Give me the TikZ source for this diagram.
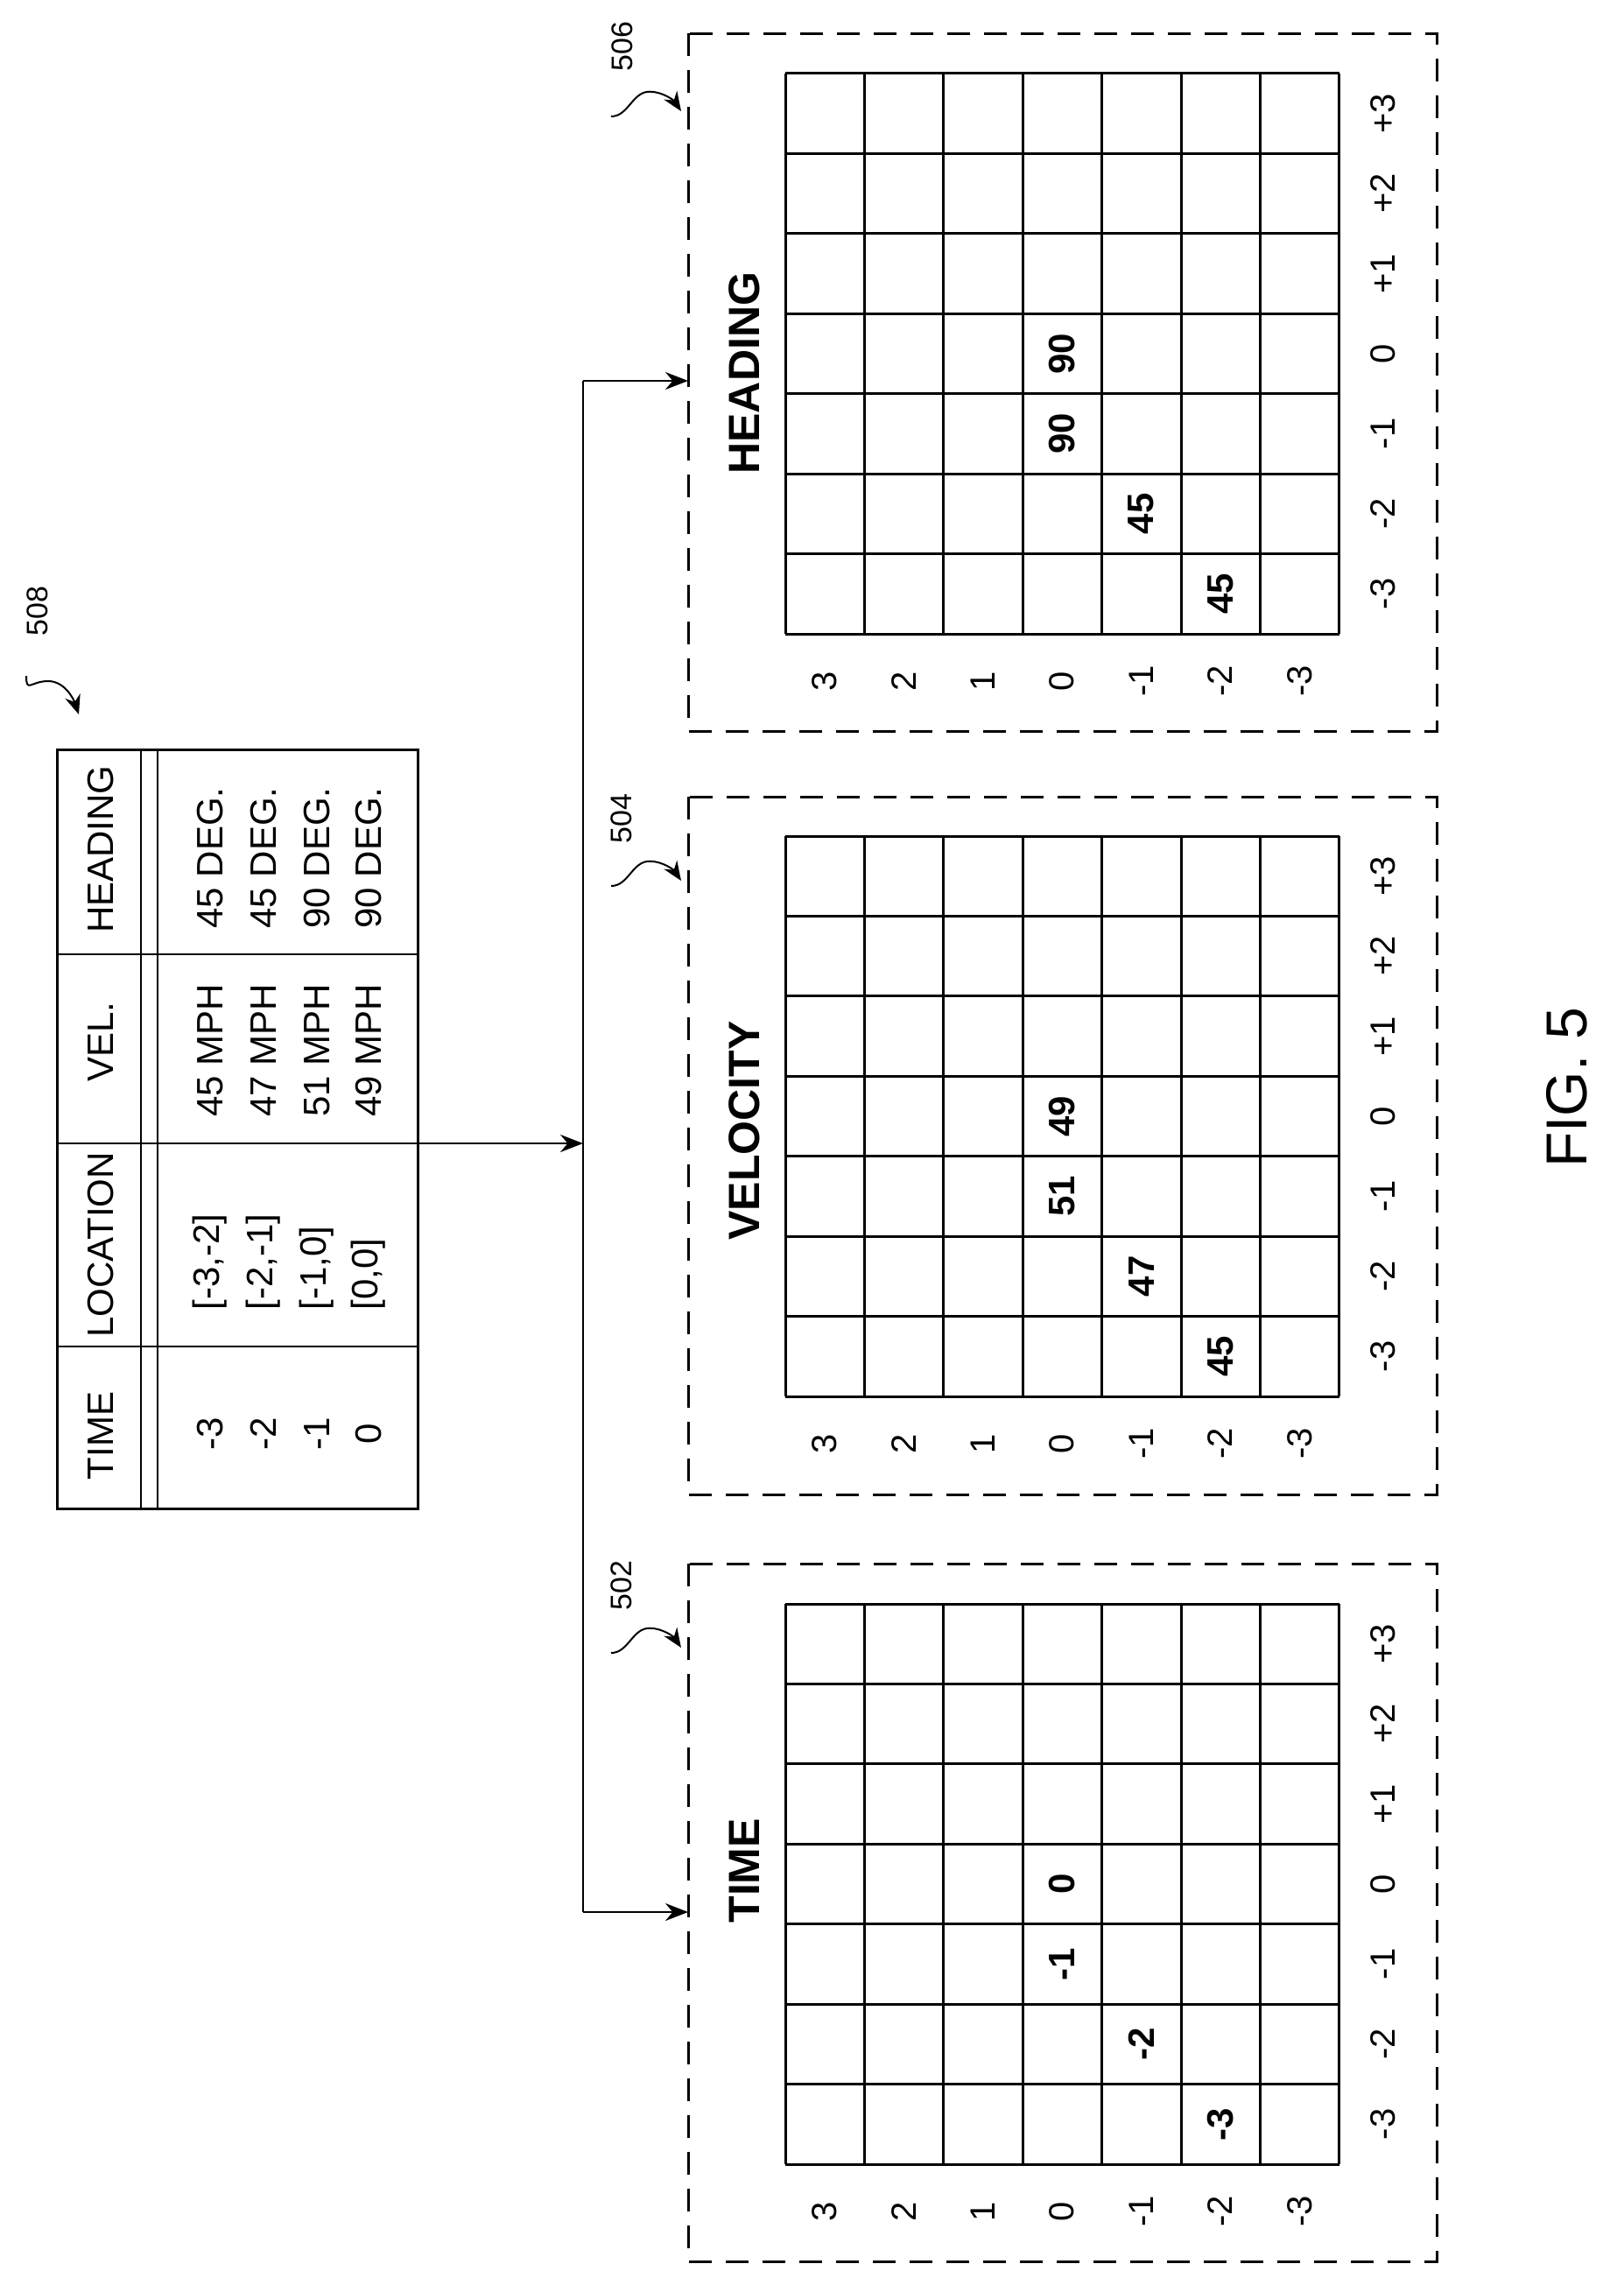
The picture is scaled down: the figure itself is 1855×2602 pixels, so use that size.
\documentclass[tikz,border=0pt]{standalone}
\usepackage{fontspec}
\setmainfont{Liberation Sans}
\usetikzlibrary{arrows.meta}
\begin{document}
\begin{tikzpicture}[x=1pt,y=-1pt,
  grid/.style={line width=3pt},
  dbox/.style={line width=3pt,dash pattern=on 26pt off 16pt},
  lab/.style={rotate=90,font=\fontsize{40}{40}\selectfont},
  tab/.style={rotate=90,font=\fontsize{42}{42}\selectfont},
  val/.style={rotate=90,font=\fontsize{42}{42}\selectfont\bfseries},
  title/.style={rotate=90,font=\fontsize{50}{50}\selectfont\bfseries,anchor=west},
  refn/.style={rotate=90,font=\fontsize{34}{34}\selectfont,anchor=west},
  conn/.style={line width=2.5pt},
  arr/.style={conn,-{Stealth[length=26pt,width=20pt]}},
  sq/.style={line width=2pt,-{Stealth[length=22pt,width=18pt]}}]
\useasboundingbox (0,0) rectangle (1855,2602);
\newcommand\mypanel[4]{%
 \draw[dbox] (786,#1) rectangle (1641,#1+797);
 \foreach \i in {0,...,7}{\draw[grid] (897+90.4*\i,#2) -- (897+90.4*\i,#2-640);}
 \foreach \j in {0,...,7}{\draw[grid] (897,#2-91.43*\j) -- (1530,#2-91.43*\j);}
 \foreach \i/\t in {0/3,1/2,2/1,3/0,4/-1,5/-2,6/-3}{\node[lab] (#3y\i) at (942+90.4*\i,#2+54) {\t};}
 \foreach \j/\t in {0/-3,1/-2,2/-1,3/0,4/+1,5/+2,6/+3}{\node[lab] (#3x\j) at (1580,#2-45.7-91.43*\j) {\t};}
 \node[title] (#3t) at (850,#4) {#3};
}
\newcommand\myval[5]{\node[val] (#5) at (942+90.4*#2,#1-45.7-91.43*#3) {#4};}
\newcommand\mysq[3]{% numeral node, start, tip
 \draw[sq] (#2) .. controls +(20,0) and +(-20,0) .. ($(#2)!0.55!(#3)+(0,-25)$) .. controls +(15,0) and +(-8,-12) .. (#3);}
\usetikzlibrary{calc}
\mypanel{1786}{2472}{TIME}{2200}
\mypanel{910}{1595}{VELOCITY}{1420}
\mypanel{38}{724}{HEADING}{545}
\myval{2472}{5}{0}{-3}{t1}
\myval{2472}{4}{1}{-2}{t2}
\myval{2472}{3}{2}{-1}{t3}
\myval{2472}{3}{3}{0}{t4}
\myval{1595}{5}{0}{45}{v1}
\myval{1595}{4}{1}{47}{v2}
\myval{1595}{3}{2}{51}{v3}
\myval{1595}{3}{3}{49}{v4}
\myval{724}{5}{0}{45}{h1}
\myval{724}{4}{1}{45}{h2}
\myval{724}{3}{2}{90}{h3}
\myval{724}{3}{3}{90}{h4}
% table
\draw[grid] (65,856) rectangle (477,1723);
\draw[line width=2.5pt] (161,856) -- (161,1723) (180,856) -- (180,1723);
\foreach \y in {1090,1306,1538}{\draw[line width=2.5pt] (65,\y) -- (477,\y);}
\node[tab] (hT) at (115,1640) {TIME};
\node[tab] (hL) at (115,1422) {LOCATION};
\node[tab] (hV) at (115,1190) {VEL.};
\node[tab] (hH) at (115,970) {HEADING};
\foreach \x/\a/\b/\c/\d [count=\k] in {240/-3/{[-3,-2]}/45 MPH/45 DEG.,301/-2/{[-2,-1]}/47 MPH/45 DEG.,362/-1/{[-1,0]}/51 MPH/90 DEG.,421/0/{[0,0]}/49 MPH/90 DEG.}{
  \node[tab] (rt\k) at (\x,1638) {\a};
  \node[tab,anchor=west] (rl\k) at (\x,1500) {\b};
  \node[tab] (rv\k) at (\x,1200) {\c};
  \node[tab] (rh\k) at (\x,980) {\d};
}
% connectors
\coordinate (tabR) at (477,1306);
\coordinate (bus) at (666,1306);
\coordinate (busT) at (666,435);
\coordinate (busB) at (666,2184);
\coordinate (pH) at (786,435);
\coordinate (pT) at (786,2184);
\draw[arr] (tabR) -- (bus);
\draw[conn] (busT) -- (busB);
\draw[arr] (busT) -- (pH);
\draw[arr] (busB) -- (pT);
% reference numerals
\node[refn] (n508) at (43,730) {508};
\node[refn] (n502) at (710,1843) {502};
\node[refn] (n504) at (710,967) {504};
\node[refn] (n506) at (711,85) {506};
\coordinate (s502) at (698,1888); \coordinate (t502) at (778,1882);
\coordinate (s504) at (698,1012); \coordinate (t504) at (778,1006);
\coordinate (s506) at (698,133); \coordinate (t506) at (778,127);
\mysq{n502}{s502}{t502}
\mysq{n504}{s504}{t504}
\mysq{n506}{s506}{t506}
\coordinate (s508) at (30,772); \coordinate (t508) at (90,816);
\draw[sq] (s508) .. controls +(0,20) and +(-20,0) .. (55,778) .. controls +(20,0) and +(-5,-15) .. (t508);
\node[rotate=90,font=\fontsize{66}{66}\selectfont] (fig) at (1790,1242) {FIG. 5};
\end{tikzpicture}
\end{document}
